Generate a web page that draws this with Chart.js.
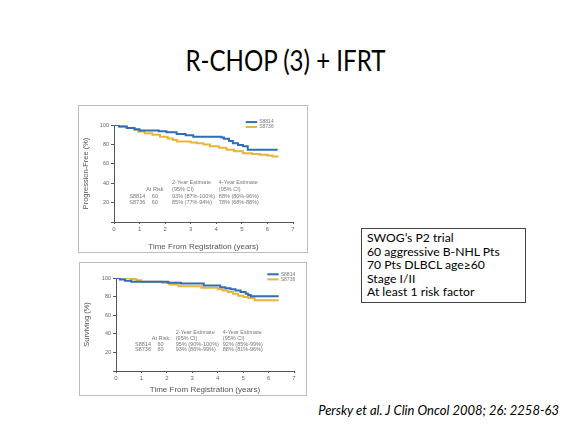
<!DOCTYPE html>
<html lang="en">
<head>
<meta charset="utf-8" />
<title>R-CHOP (3) + IFRT</title>
<script src="https://cdn.jsdelivr.net/npm/chart.js"></script>
<style>
    body { margin: 0; background: #fff; width: 571px; height: 426px; position: relative; overflow: hidden; font-family: Lato, "Open Sans", sans-serif; }
    #title { position: absolute; left: 0; width: 571px; top: 43px; text-align: center; font-size: 28px; font-weight: 400; color: #000; transform: scaleX(0.86); transform-origin: 285px 0; }
    .panel { position: absolute; border: 1px solid #bdbdbd; background: #fff; }
    #pfsBox { left: 78px; top: 105px; width: 228px; height: 146px; }
    #osBox { left: 79px; top: 262px; width: 226px; height: 132px; }
    #note { position: absolute; left: 361px; top: 228px; width: 153px; padding: 2px 5px 3px 5px; border: 1px solid #444; font-size: 12.2px; line-height: 13.6px; color: #000; }
    #cite { position: absolute; right: 12px; top: 402px; font-style: italic; font-size: 13px; color: #000; }
</style>
</head>
<body>
    <div id="title">R-CHOP (3) + IFRT</div>
    <div class="panel" id="pfsBox"><canvas id="pfsChart"></canvas></div>
    <div class="panel" id="osBox"><canvas id="osChart"></canvas></div>
    <div id="note">SWOG’s P2 trial<br>60 aggressive B-NHL Pts<br>70 Pts DLBCL age≥60<br>Stage I/II<br>At least 1 risk factor</div>
    <div id="cite">Persky et al. J Clin Oncol 2008; 26: 2258-63</div>

<script>
    // Progression-free survival (top panel), years / percent
    var pfs8814Years = [0, 0.2, 0.5, 0.8, 1.0, 1.75, 2.05, 2.45, 2.8, 3.1, 4.2, 4.3, 4.5, 4.65, 4.85, 5.04, 5.23, 6.4];
    var pfs8814Pct   = [100, 98.5, 97, 95.5, 94.4, 93.5, 92.6, 90.6, 89.5, 88, 87, 85.8, 83.5, 81.3, 79.5, 78, 74.5, 74.5];
    var pfs8736Years = [0, 0.2, 0.5, 0.8, 0.94, 1.2, 1.5, 1.8, 2.1, 2.3, 2.46, 3.0, 3.24, 3.5, 3.75, 4.1, 4.4, 4.7, 5.04, 5.4, 5.7, 6.0, 6.2, 6.4];
    var pfs8736Pct   = [100, 98.5, 97, 95, 93.3, 91.5, 90, 88, 86, 84.5, 83, 82, 81.3, 80, 78, 76.5, 74.5, 73, 71, 70, 69.4, 68.5, 67.5, 66.7];

    // Overall survival (bottom panel)
    var os8814Years = [0, 0.15, 0.35, 0.6, 2.05, 2.56, 3.45, 4.1, 4.3, 4.5, 4.7, 4.9, 5.1, 5.2, 5.3, 6.4];
    var os8814Pct   = [100, 98.5, 97, 96, 95, 94, 92, 90, 89, 88, 86.5, 85, 83, 81.6, 80.5, 80.5];
    var os8736Years = [0, 0.6, 0.8, 1.0, 1.8, 2.1, 2.46, 3.36, 4.0, 4.2, 4.4, 4.6, 4.8, 5.0, 5.2, 5.45, 6.4];
    var os8736Pct   = [100, 99, 97.5, 96, 95, 93, 91, 89.5, 88, 86.5, 85, 83, 81, 79.5, 78.5, 76, 76];

    var seriesNames = ['S8814', 'S8736'];
    var yearTicks = [0, 1, 2, 3, 4, 5, 6, 7];
    var tableHead1 = ['', '', '2-Year Estimate', '4-Year Estimate'];
    var tableHead2 = ['', 'At Risk', '(95% CI)', '(95% CI)'];
    var pfsTable = [
        ['S8814', '60', '93% (87%-100%)', '88% (80%-96%)'],
        ['S8736', '60', '85% (77%-94%)', '78% (68%-88%)']
    ];
    var osTable = [
        ['S8814', '60', '95% (90%-100%)', '92% (85%-99%)'],
        ['S8736', '60', '93% (86%-99%)', '88% (81%-96%)']
    ];

    var blue = '#2f6db5';
    var gold = '#e8b43a';
    var axisGrey = '#555';

    function toPoints(xs, ys) {
        return xs.map(function (x, i) { return { x: x, y: ys[i] }; });
    }

    // legend + at-risk table drawn inside the plot, placed on the chart scales
    var overlay = {
        id: 'overlay',
        afterDatasetsDraw: function (chart, args, o) {
            var ctx = chart.ctx, xs = chart.scales.x, ys = chart.scales.y;
            ctx.save();
            ctx.font = '5px "Liberation Sans", Arial, sans-serif';
            ctx.textBaseline = 'middle';
            [blue, gold].forEach(function (c, i) {
                var y = ys.getPixelForValue(o.legendY[i]);
                ctx.strokeStyle = c;
                ctx.lineWidth = 2;
                ctx.beginPath();
                ctx.moveTo(xs.getPixelForValue(o.legendX[0]), y);
                ctx.lineTo(xs.getPixelForValue(o.legendX[1]), y);
                ctx.stroke();
                ctx.fillStyle = '#777';
                ctx.fillText(seriesNames[i], xs.getPixelForValue(o.legendX[1]) + 2, y);
            });
            ctx.fillStyle = '#777';
            ctx.font = '5.5px "Liberation Sans", Arial, sans-serif';
            var rows = [tableHead1, tableHead2].concat(o.rows);
            rows.forEach(function (row, r) {
                row.forEach(function (txt, c) {
                    if (!txt) return;
                    ctx.textAlign = c === 1 ? 'center' : 'left';
                    ctx.fillText(txt, xs.getPixelForValue(o.colX[c]), ys.getPixelForValue(o.rowY[r]));
                });
            });
            ctx.restore();
        }
    };

    function makeChart(id, d1, d2, yTitle, geom, ov) {
        return new Chart(document.getElementById(id), {
            type: 'line',
            data: {
                datasets: [
                    { label: seriesNames[0], data: d1, borderColor: blue, borderWidth: 2, stepped: true, pointRadius: 0 },
                    { label: seriesNames[1], data: d2, borderColor: gold, borderWidth: 2, stepped: true, pointRadius: 0 }
                ]
            },
            options: {
                responsive: true,
                maintainAspectRatio: false,
                animation: false,
                layout: { padding: { top: geom.top, right: geom.right, left: 0, bottom: 0 } },
                plugins: { legend: { display: false }, tooltip: { enabled: false }, overlay: ov },
                scales: {
                    x: {
                        type: 'linear', min: 0, max: 7,
                        afterBuildTicks: function (s) { s.ticks = yearTicks.map(function (v) { return { value: v }; }); },
                        afterFit: function (s) { s.height = geom.xh; },
                        border: { color: axisGrey, width: 1 },
                        grid: { drawOnChartArea: false, tickLength: 2, color: axisGrey },
                        ticks: { font: { size: 6, family: 'Liberation Sans' }, color: '#666', padding: 2 },
                        title: { display: true, text: 'Time From Registration (years)', font: { size: 8, family: 'Liberation Sans' }, color: '#555', padding: { top: geom.tpad, bottom: 0 } }
                    },
                    y: {
                        min: 0, max: 100,
                        afterFit: function (s) { s.width = geom.yw; },
                        border: { color: axisGrey, width: 1 },
                        grid: { drawOnChartArea: false, tickLength: 3, color: axisGrey },
                        ticks: { stepSize: 20, font: { size: 5.5, family: 'Liberation Sans' }, color: '#666', padding: 2,
                            callback: function (v) { return v === 0 ? '' : v; } },
                        title: { display: true, text: yTitle, font: { size: 7.5, family: 'Liberation Sans' }, color: '#555', padding: 2 }
                    }
                }
            },
            plugins: [overlay]
        });
    }

    makeChart('pfsChart', toPoints(pfs8814Years, pfs8814Pct), toPoints(pfs8736Years, pfs8736Pct),
        'Progression-Free (%)', { top: 19, right: 14, xh: 30, yw: 35, tpad: 4 },
        { legendX: [5.15, 5.6], legendY: [103, 98], colX: [0.6, 1.6, 2.27, 4.1], rowY: [41, 34, 26, 20], rows: pfsTable });

    makeChart('osChart', toPoints(os8814Years, os8814Pct), toPoints(os8736Years, os8736Pct),
        'Surviving (%)', { top: 15, right: 12, xh: 24, yw: 36, tpad: 2 },
        { legendX: [5.95, 6.4], legendY: [104, 98.5], colX: [0.75, 1.75, 2.35, 4.2], rowY: [41, 35, 28.5, 23], rows: osTable });
</script>
</body>
</html>
